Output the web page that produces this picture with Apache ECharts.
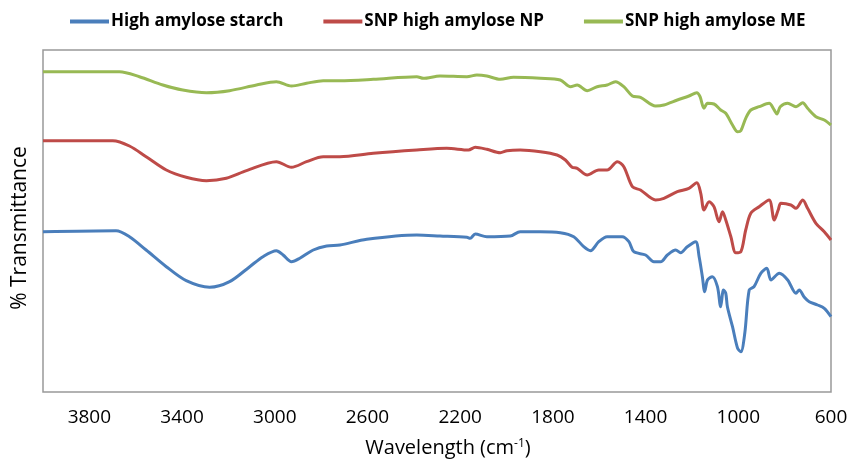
<!DOCTYPE html>
<html>
<head>
<meta charset="utf-8">
<script src="https://cdn.jsdelivr.net/npm/echarts@6/dist/echarts.min.js"></script>
<style>html,body{margin:0;padding:0;background:#fff}#c{width:848px;height:462px}</style>
</head>
<body>
<div id="c"></div>
<script>
// Series names
const seriesNames = ['High amylose starch', 'SNP high amylose NP', 'SNP high amylose ME'];

// Tick labels on the wavenumber axis
const tickLabels = [3800, 3400, 3000, 2600, 2200, 1800, 1400, 1000, 600];

// Axis titles
const xTitle = '{a|Wavelength (cm}{s|-1}{a|)}';
const yTitle = '% Transmittance';

// High amylose starch (blue)
const starchWn = [4000,3685,3627,3555,3468,3382,3281,3195,3108,3051,2993,2964,2928,2892,2834,2776,2719,2603,2387,2287,2171,2157,2135,2085,1984,1941,1854,1768,1710,1667,1638,1602,1566,1501,1472,1451,1400,1364,1335,1306,1270,1249,1220,1184,1169,1155,1145,1133,1112,1090,1076,1064,1054,1047,1025,1003,989,972,953,932,903,877,859,823,787,751,737,715,694,658,629,600];
const starchT  = [160.3,161.3,155.3,142,125.3,111.3,104.7,110.3,125.3,135.3,141.3,137,130.3,133.7,142,146,147,152.7,157,156,154.7,153.7,158,155.3,156,160.3,160.3,159.3,155.3,145.3,141.3,150.3,155.3,155.3,150.3,140.3,137,130.3,130.3,137,142,139.3,145.3,150.3,135.3,115.3,100.3,112,115.3,105.3,85.3,102,98.7,85.3,65.3,43.7,40.3,58.7,102,105.3,118.7,123.7,112,118.7,112,98.7,102,94.7,90.3,87,83.7,75.3];

// SNP high amylose NP (red)
const npWn = [4000,3699,3627,3555,3468,3382,3295,3209,3122,2993,2928,2863,2791,2719,2575,2387,2258,2164,2135,2085,2027,1998,1941,1854,1782,1746,1717,1695,1652,1602,1566,1522,1494,1457,1422,1357,1321,1263,1213,1179,1162,1148,1126,1105,1083,1068,1054,1032,1011,989,968,946,910,867,845,828,816,773,751,722,701,665,629,600];
const npT  = [251.3,251.3,246,235.3,222,214.7,211.3,213.7,221.3,230.3,224.7,230.3,235.3,235.3,238.7,242,243.7,242,244.7,242.7,239.3,241.3,242,240.3,237,232,224.7,223.7,217,222,222,230.3,225.3,205.3,202,192,193.7,200.3,203.7,209.3,198.7,182,190.3,185.3,170.3,180.3,172,155.3,139.3,140.3,162,178.7,185.3,192,172,182,188.7,187,183.7,192,183.7,168.7,160.3,152];

// SNP high amylose ME (green)
const meWn = [4000,3771,3670,3584,3483,3397,3295,3195,3079,2993,2928,2863,2791,2719,2575,2387,2359,2287,2171,2128,2085,2027,1970,1854,1768,1724,1695,1652,1609,1566,1530,1494,1457,1422,1357,1321,1263,1213,1179,1165,1148,1133,1105,1076,1054,1025,1003,989,968,946,910,867,845,833,819,787,751,722,701,665,629,600];
const meT  = [320.3,320.3,320.3,315.3,307,302,299.3,301.3,307,310.3,306,308.7,311.3,311.3,312.7,315.3,313.7,316,315.3,317,316,312.7,314.7,313.7,312,305.3,307,301.3,305.3,307,310.3,305.3,296,294.7,286,287,292,296,299.3,295.3,283.7,288.7,288,282,278.7,267,260.3,261.3,273.7,282,285.3,288.7,282,278,285.3,288.7,285.3,289.3,283.7,275.3,272,267];

const colors = ['#4A7EBB', '#BE4B48', '#98B954'];
const zip = (a, b) => a.map((v, i) => [v, b[i]]);
const seriesData = [zip(starchWn, starchT), zip(npWn, npT), zip(meWn, meT)];

const chart = echarts.init(document.getElementById('c'), null, {renderer: 'canvas'});
const FONT = 'Open Sans';
chart.setOption({
  animation: false,
  backgroundColor: '#ffffff',
  color: colors,
  legend: {
    top: 8,
    left: 65,
    itemWidth: 39,
    itemHeight: 4,
    itemGap: 40,
    icon: 'rect',
    textStyle: {fontFamily: FONT, fontWeight: 'bold', fontSize: 17, color: '#000', padding: [0, 0, 0, -3]},
    data: seriesNames
  },
  graphic: [{
    type: 'text',
    x: 20,
    y: 228,
    rotation: Math.PI / 2,
    style: {text: yTitle, fontFamily: FONT, fontSize: 21, fill: '#000', align: 'center', verticalAlign: 'middle'}
  }],
  grid: {
    left: 43, right: 17, top: 50, bottom: 70,
    outerBoundsMode: 'none',
    containLabel: false,
    show: true, borderColor: '#999999', borderWidth: 1.5
  },
  xAxis: {
    type: 'value',
    inverse: true,
    min: 600, max: 4000, interval: 200,
    axisLine: {show: false},
    axisTick: {show: false},
    splitLine: {show: false},
    axisLabel: {
      margin: 16,
      fontFamily: FONT, fontSize: 19, color: '#000',
      formatter: v => tickLabels.indexOf(v) >= 0 ? String(v) : ''
    },
    name: xTitle,
    nameLocation: 'middle',
    nameGap: 46,
    nameTextStyle: {
      padding: [0, 0, 0, 22],
      rich: {
        a: {fontFamily: FONT, fontSize: 20, color: '#000'},
        s: {fontFamily: FONT, fontSize: 12, color: '#000', verticalAlign: 'top', padding: [0, 0, 8, 0]}
      }
    }
  },
  yAxis: {
    type: 'value',
    min: 0, max: 342,
    axisLine: {show: false},
    axisTick: {show: false},
    splitLine: {show: false},
    axisLabel: {show: false}
  },
  series: seriesNames.map((n, i) => ({
    name: n,
    type: 'line',
    data: seriesData[i],
    showSymbol: false,
    symbol: 'none',
    smooth: 0.3,
    lineStyle: {width: 3, color: colors[i]},
    itemStyle: {color: colors[i]}
  }))
});
</script>
</body>
</html>
